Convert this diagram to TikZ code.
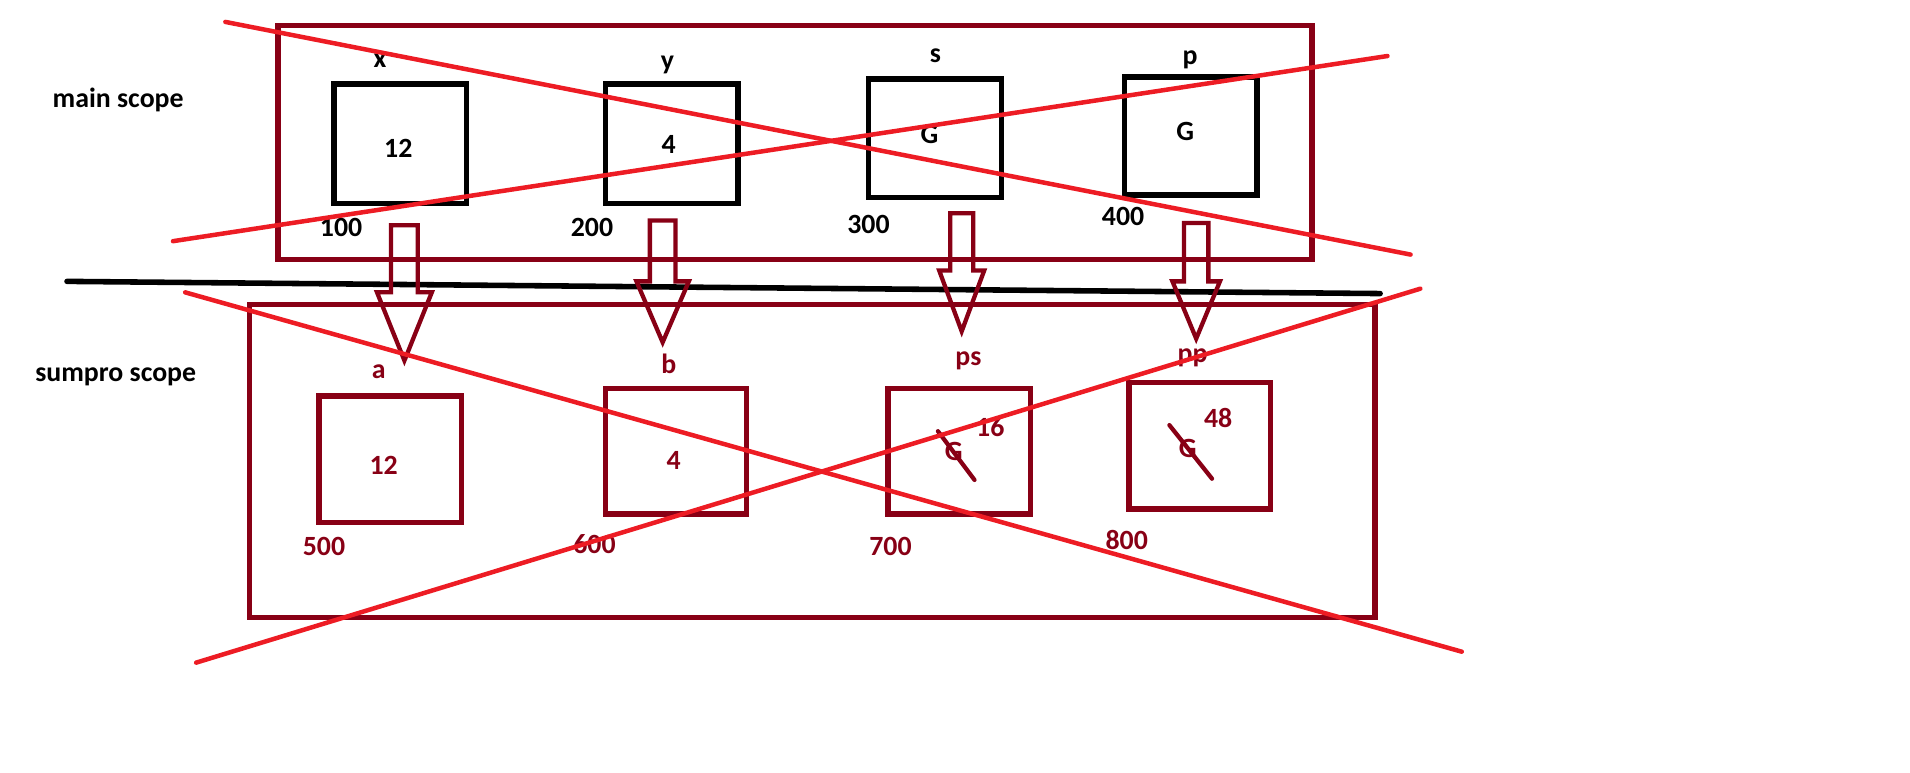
\documentclass[tikz,border=0pt]{standalone}
\usepackage{fontspec}
\setmainfont{Carlito}
\usetikzlibrary{calc}
\definecolor{scopered}{HTML}{880015}
\definecolor{crossred}{HTML}{ED1C24}
\begin{document}
\begin{tikzpicture}[x=0.02cm,y=-0.02cm,
  lbl/.style={font=\fontsize{13}{15}\selectfont\bfseries, inner sep=0pt},
  sublbl/.style={lbl, text=scopered},
  mainbox/.style={draw=black, line width=2.6pt, inner sep=0pt},
  subbox/.style={draw=scopered, line width=2.6pt, inner sep=0pt},
  scopebox/.style={draw=scopered, line width=2.6pt, inner sep=0pt},
  strike/.style={draw=crossred, line width=2.1pt, line cap=round},
  blockarrow/.style={draw=scopered, line width=2pt, line join=miter},
  divider/.style={draw=black, line width=2.6pt, line cap=round},
  slash/.style={draw=scopered, line width=2pt, line cap=round},
]
\useasboundingbox (0,0) rectangle (1568,634);

% scope frames
\node[scopebox, minimum width={849*0.02cm}, minimum height={192*0.02cm}] (mainscope) at (652.5,117) {};
\node[scopebox, minimum width={924*0.02cm}, minimum height={257*0.02cm}] (sumscope) at (667,378.5) {};

\node[lbl] (mainname) at (97,82) {main scope};
\node[lbl] (sumname) at (95,309) {sumpro scope};

% variables of the main scope
\node[mainbox, minimum width={109*0.02cm}, minimum height={98*0.02cm}] (x) at (328.5,118) {};
\node[mainbox, minimum width={109*0.02cm}, minimum height={98*0.02cm}] (y) at (551.5,118) {};
\node[mainbox, minimum width={109*0.02cm}, minimum height={97*0.02cm}] (s) at (767.5,113.5) {};
\node[mainbox, minimum width={109*0.02cm}, minimum height={97*0.02cm}] (p) at (977.5,111.5) {};

\node[lbl] (xname) at (312,50) {x};
\node[lbl] (yname) at (548,53) {y};
\node[lbl] (sname) at (768,46) {s};
\node[lbl] (pname) at (977,49) {p};

\node[lbl] (xval) at (327,122) {12};
\node[lbl] (yval) at (549,119) {4};
\node[lbl] (sval) at (763,110) {G};
\node[lbl] (pval) at (973,108) {G};

\node[lbl] (xaddr) at (280,187) {100};
\node[lbl] (yaddr) at (486,187) {200};
\node[lbl] (saddr) at (713,184) {300};
\node[lbl] (paddr) at (922,178) {400};

% variables of the sumpro scope
\node[subbox, minimum width={117*0.02cm}, minimum height={104*0.02cm}] (a) at (320.5,377) {};
\node[subbox, minimum width={116*0.02cm}, minimum height={103*0.02cm}] (b) at (555,370.5) {};
\node[subbox, minimum width={117*0.02cm}, minimum height={103*0.02cm}] (ps) at (787.5,370.5) {};
\node[subbox, minimum width={116*0.02cm}, minimum height={104*0.02cm}] (pp) at (985,366) {};

\node[sublbl] (aname) at (311,305) {a};
\node[sublbl] (bname) at (549,299) {b};
\node[sublbl] (psname) at (795,296) {ps};
\node[sublbl] (ppname) at (979,294) {pp};

\node[sublbl] (aval) at (315,382) {12};
\node[sublbl] (bval) at (553,378) {4};
\node[sublbl] (psval) at (783,371) {G};
\node[sublbl] (ppval) at (975,368) {G};
\node[sublbl] (psnew) at (813,351) {16};
\node[sublbl] (ppnew) at (1000,343) {48};

\node[sublbl] (aaddr) at (266,449) {500};
\node[sublbl] (baddr) at (488,447) {600};
\node[sublbl] (psaddr) at (731,449) {700};
\node[sublbl] (ppaddr) at (925,443) {800};

% old values struck out
\draw[slash] ($(psval)+(-13,-17)$) -- ($(psval)+(17,23)$);
\draw[slash] ($(ppval)+(-15,-19)$) -- ($(ppval)+(20,25)$);

% boundary between the scopes
\coordinate (divL) at (55,231);
\coordinate (divR) at (1133,241);
\draw[divider] (divL) -- (divR);

% copies passed into sumpro
\coordinate (xout) at (332,185);   \coordinate (ain) at (332,296);
\coordinate (yout) at (544,181);   \coordinate (bin) at (544,281);
\coordinate (sout) at (789.5,175); \coordinate (psin) at (789.5,272);
\coordinate (pout) at (982,183);   \coordinate (ppin) at (982,278);

\foreach \from/\to/\hl/\sw/\hw in {xout/ain/56/11/22.5, yout/bin/50/10.5/21.5, sout/psin/50/9.5/18.5, pout/ppin/47/10/19.5}{
  \draw[blockarrow]
    ($(\from)+(-\sw,0)$) -- ($(\from)+(\sw,0)$)
    -- ($(\to)+(\sw,-\hl)$) -- ($(\to)+(\hw,-\hl)$)
    -- (\to)
    -- ($(\to)+(-\hw,-\hl)$) -- ($(\to)+(-\sw,-\hl)$) -- cycle;
}

% crossed-out scopes
\coordinate (m1a) at (185,18);  \coordinate (m1b) at (1158,209);
\coordinate (m2a) at (142,198); \coordinate (m2b) at (1139,46);
\coordinate (s1a) at (152,240); \coordinate (s1b) at (1200,535);
\coordinate (s2a) at (161,544); \coordinate (s2b) at (1166,237);
\draw[strike] (m1a) -- (m1b);
\draw[strike] (m2a) -- (m2b);
\draw[strike] (s1a) -- (s1b);
\draw[strike] (s2a) -- (s2b);
\end{tikzpicture}
\end{document}
